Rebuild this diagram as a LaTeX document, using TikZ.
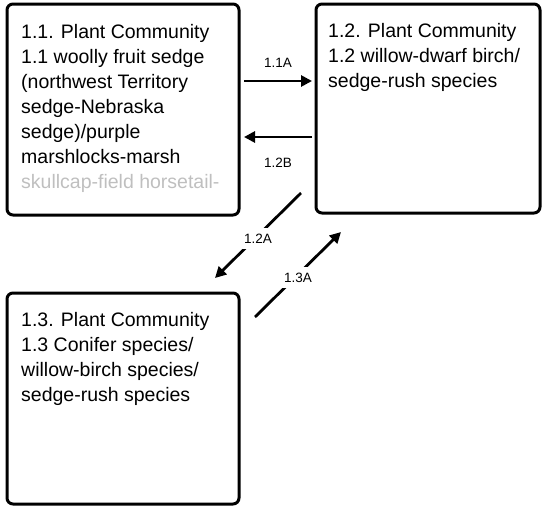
\documentclass[tikz,border=0pt]{standalone}
\usepackage{fontspec}
\setmainfont{Liberation Sans}
\usetikzlibrary{arrows.meta}
\begin{document}
\begin{tikzpicture}[x=1pt,y=-1pt,
 box/.style={draw, line width=3pt, rounded corners=6pt, inner sep=0pt},
 boxtext/.style={anchor=north west, inner sep=0pt, align=left, font=\fontsize{19.5}{25}\selectfont},
 lbl/.style={font=\fontsize{13.5}{15}\selectfont, inner sep=1.5pt},
 arr/.style={line width=2.8pt, -{Triangle[length=11pt,width=11pt]}}]
\useasboundingbox (0,0) rectangle (543,506);
\node[box, minimum width=232pt, minimum height=211pt] (b1) at (123,109.5) {};
\node[box, minimum width=224pt, minimum height=209pt] (b2) at (428,108.5) {};
\node[box, minimum width=232pt, minimum height=211pt] (b3) at (123,398.5) {};
\node[boxtext] (t1) at (21,24) {1.1. Plant Community\\1.1 woolly fruit sedge\\(northwest Territory\\sedge-Nebraska\\sedge)/purple\\marshlocks-marsh\\\textcolor{black!25}{skullcap-field horsetail-}};
\node[boxtext] (t2) at (328,23) {1.2. Plant Community\\1.2 willow-dwarf birch/\\sedge-rush species};
\node[boxtext] (t3) at (21,312) {1.3. Plant Community\\1.3 Conifer species/\\willow-birch species/\\sedge-rush species};
\coordinate (a1s) at (244,81);
\coordinate (a1e) at (312,81);
\coordinate (a2s) at (312,137);
\coordinate (a2e) at (244,137);
\coordinate (a3s) at (301,193);
\coordinate (a3e) at (215,278);
\coordinate (a4s) at (255,317);
\coordinate (a4e) at (341,232);
\draw[arr] (a1s) -- (a1e);
\node[lbl] (l1) at (278,63) {1.1A};
\draw[arr] (a2s) -- (a2e);
\node[lbl] (l2) at (278,163) {1.2B};
\draw[arr] (a3s) -- node[lbl, fill=white, inner sep=6pt, pos=0.5, yshift=-3pt] (l3) {1.2A} (a3e);
\draw[arr] (a4s) -- node[lbl, fill=white, inner sep=6pt, pos=0.5, yshift=-3pt] (l4) {1.3A} (a4e);
\end{tikzpicture}
\end{document}
